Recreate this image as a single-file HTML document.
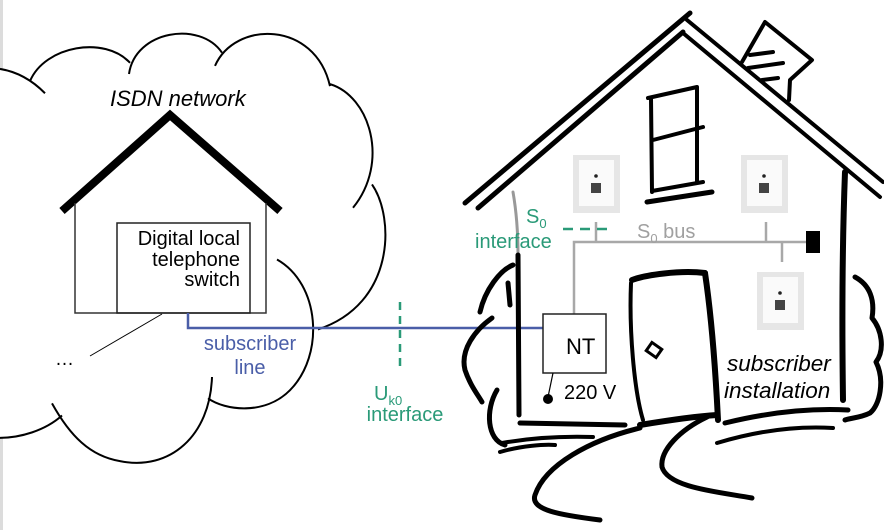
<!DOCTYPE html>
<html><head><meta charset="utf-8"><style>
html,body{margin:0;padding:0;background:#fff;}
svg{display:block;}
text{font-family:"Liberation Sans",Arial,sans-serif;}
</style></head><body>
<svg width="884" height="530" viewBox="0 0 884 530" xmlns="http://www.w3.org/2000/svg">
<rect x="0" y="0" width="3" height="530" fill="#dcdcdc"/>
<g transform="scale(1,1.0135)">
<path d="M0,68 Q25,72 45,92 L30,80 C45,45 105,35 130,62 L129,73 C135,30 200,20 222,60 L215,65 C235,20 315,20 330,85 C370,95 385,160 360,200 C395,215 395,300 318,325 C300,340 280,380 250,395 C225,405 212,380 212,372 C210,430 170,465 120,455 C90,450 70,430 58,398 C45,425 20,432 0,432 Z" fill="#fff"/>
<g fill="none" stroke="#000" stroke-width="2">
<path d="M0,68 Q25,72 45,92"/>
<path d="M30,80 C45,45 105,35 130,62"/>
<path d="M129,73 C135,30 200,20 222,52"/>
<path d="M215,65 C235,20 315,20 330,85"/>
<path d="M330,83 C370,95 390,160 353,205"/>
<path d="M372,182 C395,215 395,300 318,325"/>
<path d="M277,256 C320,280 325,350 290,385 C265,410 225,405 208,393"/>
<path d="M212,372 C210,430 170,465 120,455 C90,450 70,430 52,398"/>
<path d="M62,410 C45,425 20,432 0,432"/>
</g>
</g>
<polyline points="62,211 170,115 280,211" fill="none" stroke="#000" stroke-width="8"/>
<polyline points="75,203 75,313 266,313 266,203" fill="none" stroke="#333" stroke-width="1.5"/>
<rect x="117" y="223" width="133" height="90" fill="none" stroke="#222" stroke-width="1.5"/>
<text x="240" y="245" font-size="20" text-anchor="end">Digital local</text>
<text x="240" y="266" font-size="20" text-anchor="end">telephone</text>
<text x="240" y="286" font-size="20" text-anchor="end">switch</text>
<text x="110" y="106" font-size="22" font-style="italic">ISDN network</text>
<line x1="162" y1="314" x2="90" y2="356" stroke="#000" stroke-width="1"/>
<text x="55" y="365" font-size="19">…</text>
<polyline points="188,313 188,328 543,328" fill="none" stroke="#4a5ea8" stroke-width="2.5"/>
<text x="250" y="350" font-size="20" fill="#4a5ea8" text-anchor="middle">subscriber</text>
<text x="250" y="374" font-size="20" fill="#4a5ea8" text-anchor="middle">line</text>
<line x1="400" y1="302" x2="400" y2="372" stroke="#2a9a78" stroke-width="2.5" stroke-dasharray="8,6"/>
<text x="374" y="400" font-size="20" fill="#2a9a78">U<tspan font-size="13" dy="5">k0</tspan></text>
<text x="405" y="421" font-size="20" fill="#2a9a78" text-anchor="middle">interface</text>
<g fill="none" stroke="#000" stroke-linecap="round" stroke-linejoin="round">
<path d="M465,203 L690,13" stroke-width="5"/>
<path d="M478,208 L683,32" stroke-width="5"/>
<path d="M687,20 L883,182" stroke-width="4"/>
<path d="M683,33 L880,197" stroke-width="4"/>
<path d="M742,62 L765,22 L812,60 L790,80 L789,100" stroke-width="4"/>
<path d="M750,55 L773,52 M748,68 L783,63 M762,80 L778,78" stroke-width="4"/>
<path d="M651,98 L652,192 M648,98 L697,87 L697,182 M653,140 L703,127 M652,191 L703,182" stroke-width="4"/>
<path d="M647,202 L712,192" stroke-width="5"/>
<path d="M845,172 C842,250 842,330 843,400" stroke-width="6"/>
<path d="M513,192 C517,215 518,235 518,255" stroke="#999" stroke-width="3"/>
<path d="M518,255 L519,415" stroke-width="5"/>
<path d="M513,265 C500,270 485,290 480,312 M508,283 L510,305" stroke-width="5"/>
<path d="M492,318 C475,330 460,350 465,370 C470,385 478,395 482,402" stroke-width="5"/>
<path d="M497,390 C485,410 487,440 505,445" stroke-width="5"/>
<path d="M500,452 C520,446 545,444 555,445" stroke-width="4"/>
<path d="M855,277 C870,285 875,300 872,318 C882,330 885,350 876,362 C885,380 880,405 870,413 C860,418 850,418 845,420" stroke-width="5"/>
<path d="M632,280 C645,275 680,270 705,273" stroke-width="6"/>
<path d="M631,283 C629,330 634,390 643,420" stroke-width="4"/>
<path d="M705,273 C712,320 716,380 718,420" stroke-width="6"/>
<path d="M520,423 L625,425" stroke-width="5"/>
<path d="M502,443 C530,438 560,436 593,437" stroke-width="4"/>
<path d="M640,425 C670,420 700,416 717,415" stroke-width="6"/>
<path d="M725,423 C770,412 810,408 848,410" stroke-width="5"/>
<path d="M717,443 C760,430 800,426 833,428" stroke-width="4"/>
<path d="M640,428 C590,440 545,465 535,495 C530,510 560,515 600,520" stroke-width="5"/>
<path d="M707,417 C680,430 660,450 662,467 C668,488 720,492 752,498" stroke-width="5"/>
</g>
<rect x="648" y="345" width="12" height="10" transform="rotate(35 654 350)" fill="#fff" stroke="#000" stroke-width="3"/>
<g id="s1">
<rect x="573" y="155" width="47" height="58" fill="#e6e6e6"/>
<rect x="579" y="160" width="35" height="46" fill="#fafafa"/>
<circle cx="596" cy="176" r="1.8" fill="#222"/>
<rect x="591" y="183" width="10" height="10" fill="#444"/>
</g>
<use href="#s1" x="168" y="0"/>
<use href="#s1" x="184" y="117"/>
<g stroke="#a8a8a8" stroke-width="2.5" fill="none">
<polyline points="574,314 574,242 808,242"/>
<line x1="596" y1="222" x2="596" y2="242"/>
<line x1="766" y1="222" x2="766" y2="242"/>
<line x1="782" y1="242" x2="782" y2="262"/>
</g>
<rect x="806" y="231" width="14" height="22" fill="#000"/>
<line x1="563" y1="229" x2="614" y2="229" stroke="#2a9a78" stroke-width="2.5" stroke-dasharray="10,7"/>
<text x="637" y="238" font-size="20" fill="#a0a0a0">S<tspan font-size="13" dy="5">0</tspan><tspan dy="-5"> bus</tspan></text>
<text x="526" y="223" font-size="20" fill="#2a9a78">S<tspan font-size="13" dy="5">0</tspan></text>
<text x="475" y="248" font-size="20" fill="#2a9a78">interface</text>
<rect x="543" y="314" width="63" height="59" fill="#fff" stroke="#222" stroke-width="1.5"/>
<text x="566" y="354" font-size="22">NT</text>
<line x1="553" y1="373" x2="548" y2="397" stroke="#000" stroke-width="1.2"/>
<circle cx="548" cy="399" r="5" fill="#000"/>
<text x="564" y="399" font-size="20">220 V</text>
<text x="727" y="371" font-size="22.5" font-style="italic">subscriber</text>
<text x="724" y="398" font-size="22.5" font-style="italic">installation</text>
</svg>
</body></html>
